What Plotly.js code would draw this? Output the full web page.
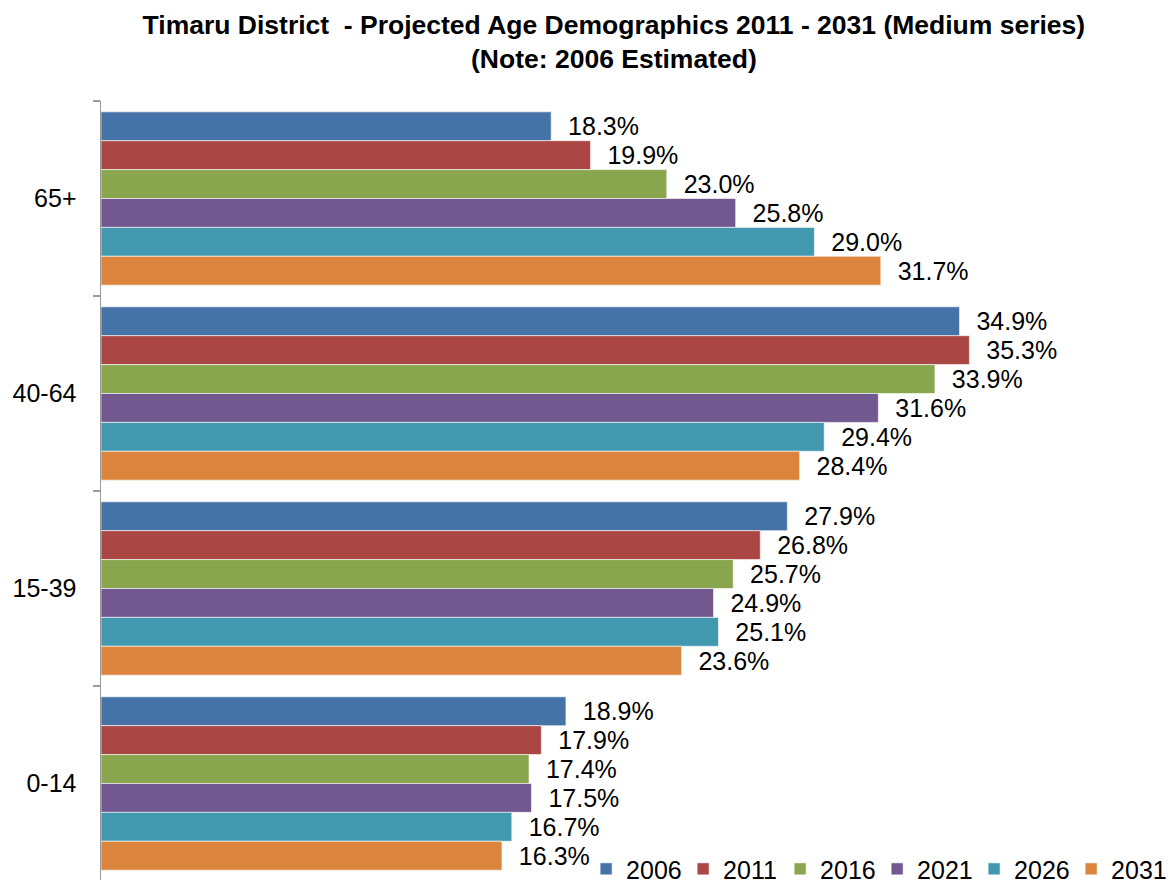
<!DOCTYPE html>
<html>
<head>
<meta charset="utf-8">
<script src="https://cdn.plot.ly/plotly-3.0.1.min.js"></script>
<style>
html, body { margin: 0; padding: 0; overflow: hidden; background: #fff; }
#chart { width: 1176px; height: 880px; }
</style>
</head>
<body>
<div id="chart"></div>
<script>
const categories = ['65+', '40-64', '15-39', '0-14'];
const years = ['2006', '2011', '2016', '2021', '2026', '2031'];
const v2006 = [18.3, 34.9, 27.9, 18.9];
const v2011 = [19.9, 35.3, 26.8, 17.9];
const v2016 = [23.0, 33.9, 25.7, 17.4];
const v2021 = [25.8, 31.6, 24.9, 17.5];
const v2026 = [29.0, 29.4, 25.1, 16.7];
const v2031 = [31.7, 28.4, 23.6, 16.3];
const seriesValues = [v2006, v2011, v2016, v2021, v2026, v2031];
const colors = ['#4572A7', '#AA4643', '#89A54E', '#71588F', '#4198AF', '#DB843D'];

const FONT = 'Liberation Sans, Arial, sans-serif';

const traces = years.map((yr, i) => ({
  type: 'bar',
  orientation: 'h',
  name: yr,
  y: categories,
  x: seriesValues[i],
  marker: { color: colors[i], line: { color: 'rgba(255,255,255,0.6)', width: 1 } },
  text: seriesValues[i].map(v => '\u00a0\u00a0' + v.toFixed(1) + '%'),
  textposition: 'outside',
  textfont: { family: FONT, size: 25, color: '#000' },
  cliponaxis: false,
  hoverinfo: 'x+name'
}));

const layout = {
  width: 1176,
  height: 880,
  margin: { l: 101, r: 91, t: 101, b: 0, autoexpand: false },
  paper_bgcolor: '#fff',
  plot_bgcolor: '#fff',
  font: { family: FONT, color: '#000' },
  title: {
    text: '<b>Timaru District  - Projected Age Demographics 2011 - 2031 (Medium series)</b><br><b>(Note: 2006 Estimated)</b>',
    font: { family: FONT, size: 26.5, color: '#000' },
    x: 0.522,
    xanchor: 'center',
    y: 1 - 34 / 880,
    yanchor: 'middle'
  },
  barmode: 'group',
  bargap: 0.111,
  bargroupgap: 0,
  xaxis: {
    range: [0, 40],
    visible: false,
    showgrid: false,
    zeroline: false
  },
  yaxis: {
    type: 'category',
    categoryorder: 'array',
    categoryarray: categories,
    range: [3.495, -0.5],
    tickson: 'boundaries',
    ticks: 'outside',
    ticklen: 7,
    tickcolor: '#9a9a9a',
    tickwidth: 1.5,
    showline: true,
    linecolor: '#9a9a9a',
    linewidth: 1.5,
    showgrid: false,
    zeroline: false,
    ticklabelstandoff: 18,
    tickfont: { family: FONT, size: 25, color: '#000' }
  },
  showlegend: true,
  legend: {
    orientation: 'h',
    x: 0.493,
    xanchor: 'left',
    y: 0.014,
    yanchor: 'middle',
    font: { family: FONT, size: 25, color: '#000' },
    bgcolor: 'rgba(255,255,255,0)',
    traceorder: 'normal',
    itemwidth: 30,
    entrywidth: 52,
    entrywidthmode: 'pixels'
  }
};

Plotly.newPlot('chart', traces, layout, { displayModeBar: false, staticPlot: true });
</script>
</body>
</html>
